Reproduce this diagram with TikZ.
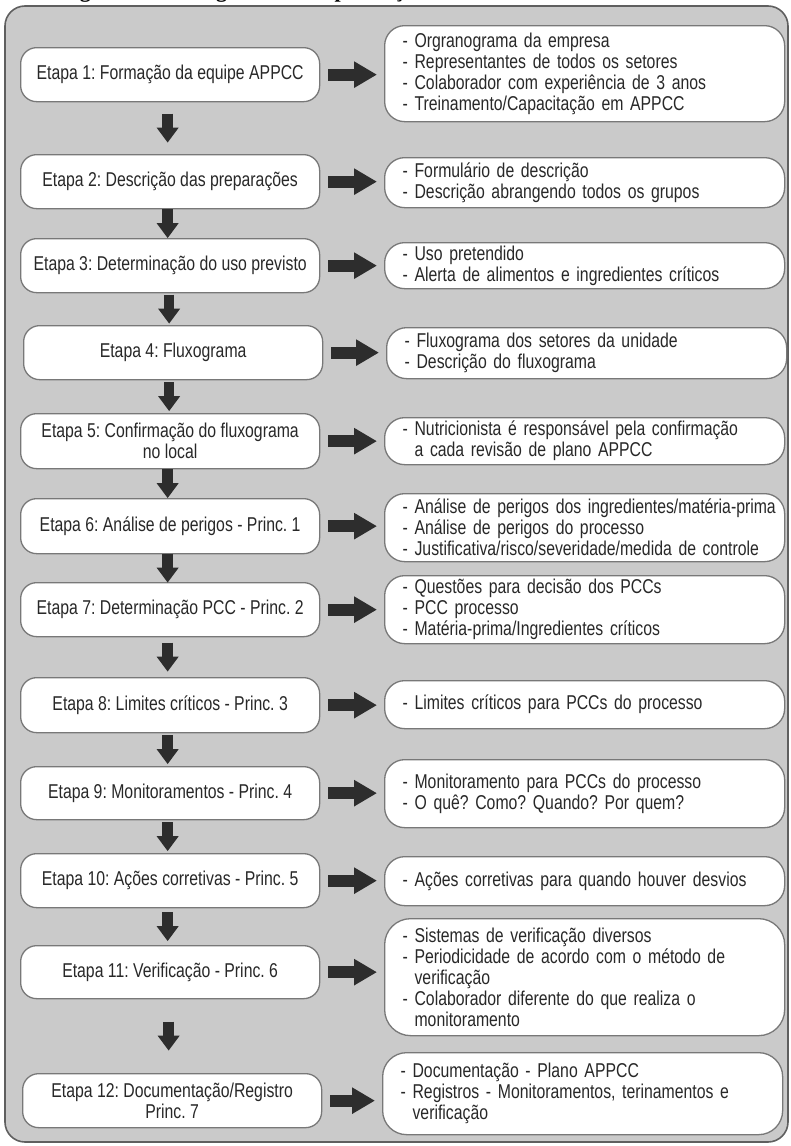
\documentclass[tikz,border=0pt]{standalone}
\usepackage{fontspec}
\setmainfont{Liberation Sans}[FakeStretch=0.79]
\newfontfamily\captionfont{Liberation Serif}[BoldFont={* Bold}]
\usetikzlibrary{arrows.meta,calc}

\definecolor{panelfill}{RGB}{202,202,202}
\definecolor{panelline}{RGB}{95,95,95}
\definecolor{boxline}{RGB}{120,120,120}
\definecolor{arrowcol}{RGB}{45,45,45}
\definecolor{textcol}{RGB}{40,40,40}

% continuation indent for wrapped list lines
\newcommand{\hang}{\hphantom{-\ }}
\frenchspacing

\tikzset{
  stagebox/.style={draw=boxline, fill=white, line width=1.3pt, rounded corners=16pt,
    anchor=north west, minimum width=299pt, minimum height=54pt, inner sep=0pt,
    align=center, text=textcol, font=\fontsize{20}{21}\selectfont},
  infobox/.style={draw=boxline, fill=white, line width=1.3pt, rounded corners=20pt,
    anchor=north west, text width=364pt, inner xsep=18pt, inner ysep=0pt,
    align=left, text=textcol, font=\fontsize{20}{21}\selectfont},
  downarrow/.style={draw=arrowcol, line width=10.5pt, -{Triangle[width=21pt,length=15pt]}},
  sidearrow/.style={draw=arrowcol, line width=12pt, -{Triangle[width=25pt,length=23pt]}},
}

\begin{document}
\begin{tikzpicture}[x=1pt,y=-1pt]
\useasboundingbox (0,0) rectangle (791,1146);

% caption line of the page, cut by the top edge
\begin{scope}
  \clip (0,0) rectangle (791,1146);
  \node[anchor=base west, inner sep=0pt, font=\captionfont\bfseries\fontsize{22}{24}\selectfont]
    (caption) at (60,-3) {Figura 1 – Fluxograma de implantação};
\end{scope}

% grey panel
\draw[panelline, line width=1.6pt, fill=panelfill, rounded corners=20pt]
  (5,6) rectangle (788,1142);

% stages (left column)
\node[stagebox] (L1)  at (20,47)   {Etapa 1: Formação da equipe APPCC};
\node[stagebox] (L2)  at (20,154)  {Etapa 2: Descrição das preparações};
\node[stagebox] (L3)  at (20,238)  {Etapa 3: Determinação do uso previsto};
\node[stagebox] (L4)  at (23,325)  {Etapa 4: Fluxograma};
\node[stagebox, minimum height=55pt] (L5)  at (20,413)  {Etapa 5: Confirmação do fluxograma\\no local};
\node[stagebox, minimum height=55pt] (L6)  at (20,498)  {Etapa 6: Análise de perigos - Princ. 1};
\node[stagebox] (L7)  at (20,582)  {Etapa 7: Determinação PCC - Princ. 2};
\node[stagebox, minimum height=55pt] (L8)  at (20,677)  {Etapa 8: Limites críticos - Princ. 3};
\node[stagebox, minimum height=53pt] (L9)  at (20,766)  {Etapa 9: Monitoramentos - Princ. 4};
\node[stagebox] (L10) at (20,853)  {Etapa 10: Ações corretivas - Princ. 5};
\node[stagebox, minimum height=53pt] (L11) at (20,945)  {Etapa 11: Verificação - Princ. 6};
\node[stagebox] (L12) at (22,1073) {Etapa 12: Documentação/Registro\\Princ. 7};

% details (right column)
\node[infobox, minimum height=96pt] (R1) at (384,25) {%
  - Orgranograma da empresa\\
  - Representantes de todos os setores\\
  - Colaborador com experiência de 3 anos\\
  - Treinamento/Capacitação em APPCC};
\node[infobox, minimum height=50pt] (R2) at (384,157) {%
  - Formulário de descrição\\
  - Descrição abrangendo todos os grupos};
\node[infobox, minimum height=46pt] (R3) at (384,242) {%
  - Uso pretendido\\
  - Alerta de alimentos e ingredientes críticos};
\node[infobox, minimum height=51pt] (R4) at (386,327) {%
  - Fluxograma dos setores da unidade\\
  - Descrição do fluxograma};
\node[infobox, minimum height=47pt] (R5) at (384,417) {%
  \mbox{- Nutricionista é responsável pela confirmação}\\
  \hang a cada revisão de plano APPCC};
\node[infobox, minimum height=68pt] (R6) at (384,493) {%
  \mbox{- Análise de perigos dos ingredientes/matéria-prima}\\
  - Análise de perigos do processo\\
  \mbox{- Justificativa/risco/severidade/medida de controle}};
\node[infobox, minimum height=68pt] (R7) at (384,575) {%
  - Questões para decisão dos PCCs\\
  - PCC processo\\
  - Matéria-prima/Ingredientes críticos};
\node[infobox, minimum height=48pt] (R8) at (384,680) {%
  - Limites críticos para PCCs do processo};
\node[infobox, minimum height=68pt] (R9) at (384,759) {%
  - Monitoramento para PCCs do processo\\
  - O quê? Como? Quando? Por quem?};
\node[infobox, minimum height=49pt] (R10) at (384,856) {%
  \mbox{- Ações corretivas para quando houver desvios}};
\node[infobox, minimum height=117pt, rounded corners=26pt] (R11) at (384,918) {%
  - Sistemas de verificação diversos\\
  \mbox{- Periodicidade de acordo com o método de}\\
  \hang verificação\\
  \mbox{- Colaborador diferente do que realiza o}\\
  \hang monitoramento};
\node[infobox, minimum height=82pt, rounded corners=24pt] (R12) at (382,1052) {%
  - Documentação - Plano APPCC\\
  \mbox{- Registros - Monitoramentos, terinamentos e}\\
  \hang verificação};

% downward arrows between stages
\foreach \a/\b in {L1/L2,L2/L3,L3/L4,L4/L5,L5/L6,L6/L7,L7/L8,L8/L9,L9/L10,L10/L11,L11/L12}{
  \draw[downarrow] ($(\a.south)!0.5!(\b.north)+(-2.5,-14.5)$) -- ($(\a.south)!0.5!(\b.north)+(-2.5,14.5)$);
}

% arrows from each stage to its details
\foreach \i in {1,...,12}{
  \draw[sidearrow] ($(L\i.east)+(8,0)$) -- ($(L\i.east -| R\i.west)+(-7,0)$);
}
\end{tikzpicture}
\end{document}
